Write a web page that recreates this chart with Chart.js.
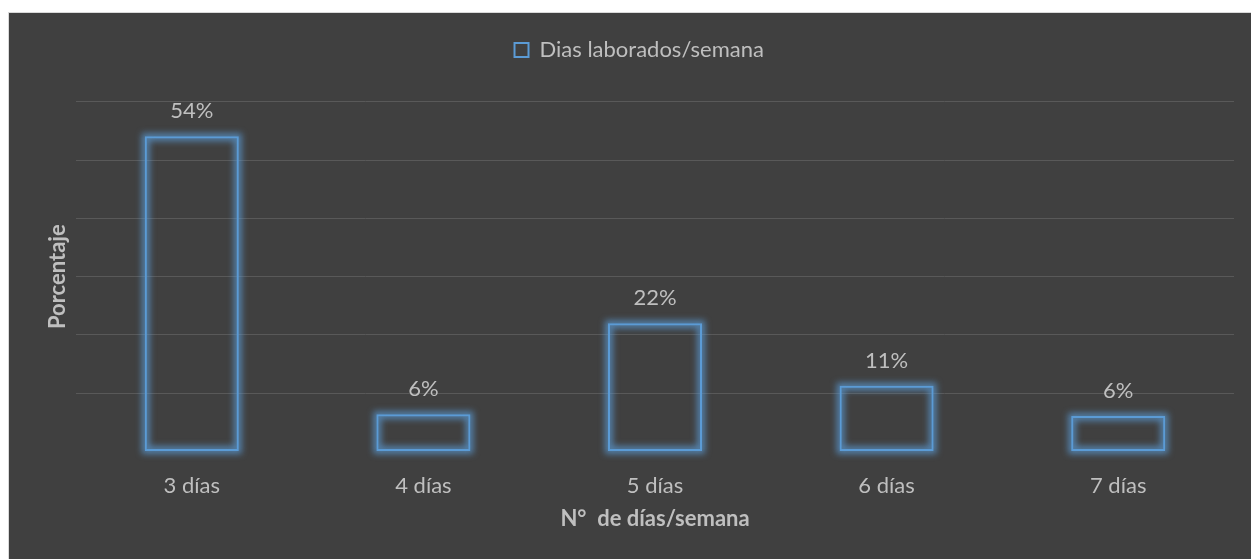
<!DOCTYPE html>
<html>
<head>
<meta charset="utf-8">
<script src="https://cdn.jsdelivr.net/npm/chart.js@4"></script>
<style>
  body { margin: 0; background: #ffffff; }
  #marco {
    position: absolute; left: 8px; top: 12px;
    width: 1242px; height: 546px;
    border-left: 1px solid #d9d9d9; border-top: 1px solid #d9d9d9;
    background: #404040;
  }
</style>
</head>
<body>
<div id="marco"><canvas id="grafico"></canvas></div>
<script>
const categorias = ['3 días', '4 días', '5 días', '6 días', '7 días'];
const porcentajes = [54.1, 6.4, 22.0, 11.3, 6.1];
const serie = 'Dias laborados/semana';
const titulo_x = 'N°  de días/semana';
const titulo_y = 'Porcentaje';

const gris = '#bfbfbf';
const azul = '#5b9bd5';
const fuente = 'Lato, "Noto Sans", sans-serif';

// brillo azul de las barras + etiquetas de datos encima
const brilloYEtiquetas = {
    id: 'brilloYEtiquetas',
    beforeInit(chart) {
        const fitOriginal = chart.legend.fit;
        chart.legend.fit = function () {
            fitOriginal.call(this);
            this.height = 72.8;
        };
    },
    beforeDatasetsDraw(chart) {
        const c = chart.ctx;
        c.save();
        c.filter = 'blur(3px)';
        c.strokeStyle = 'rgba(91,155,213,0.7)';
        c.lineWidth = 8;
        chart.getDatasetMeta(0).data.forEach(barra => {
            const p = barra.getProps(['x', 'y', 'base', 'width'], true);
            c.strokeRect(p.x - p.width / 2 + 1, p.y + 1, p.width - 2, p.base - p.y - 2);
        });
        c.restore();
    },
    afterDatasetsDraw(chart) {
        const c = chart.ctx;
        c.save();
        c.font = '22px ' + fuente;
        c.fillStyle = gris;
        c.textAlign = 'center';
        c.textBaseline = 'alphabetic';
        chart.getDatasetMeta(0).data.forEach((barra, i) => {
            c.fillText(Math.round(porcentajes[i]) + '%', barra.x, barra.y - 18);
        });
        c.restore();
    }
};

new Chart(document.getElementById('grafico'), {
    type: 'bar',
    data: {
        labels: categorias,
        datasets: [{
            label: serie,
            data: porcentajes,
            backgroundColor: 'rgba(0,0,0,0)',
            borderColor: azul,
            borderWidth: 2,
            borderSkipped: false,
            categoryPercentage: 1,
            barPercentage: 0.406
        }]
    },
    options: {
        responsive: true,
        maintainAspectRatio: false,
        animation: false,
        layout: { padding: { left: 35.4, right: 17, top: 16, bottom: 26.4 } },
        plugins: {
            tooltip: { enabled: false },
            legend: {
                position: 'top',
                labels: {
                    color: gris,
                    font: { family: fuente, size: 22 },
                    boxWidth: 14,
                    boxHeight: 14,
                    padding: 10
                }
            }
        },
        scales: {
            x: {
                grid: { display: false },
                border: { display: false },
                ticks: { color: gris, font: { family: fuente, size: 22 }, padding: 13 },
                title: {
                    display: true,
                    text: titulo_x,
                    color: gris,
                    font: { family: fuente, size: 22, weight: 'bold' },
                    padding: 0
                },
                afterFit(s) { s.height = 81.1; }
            },
            y: {
                min: 0,
                max: 60,
                ticks: { display: false, stepSize: 10 },
                border: { display: false },
                grid: {
                    drawTicks: false,
                    color: ctx => ctx.tick && ctx.tick.value === 0 ? 'rgba(0,0,0,0)' : '#595959'
                },
                title: {
                    display: true,
                    text: titulo_y,
                    color: gris,
                    font: { family: fuente, size: 22, weight: 'bold' },
                    padding: 0
                },
                afterFit(s) { s.width = 31.6; }
            }
        }
    },
    plugins: [brilloYEtiquetas]
});
</script>
</body>
</html>
